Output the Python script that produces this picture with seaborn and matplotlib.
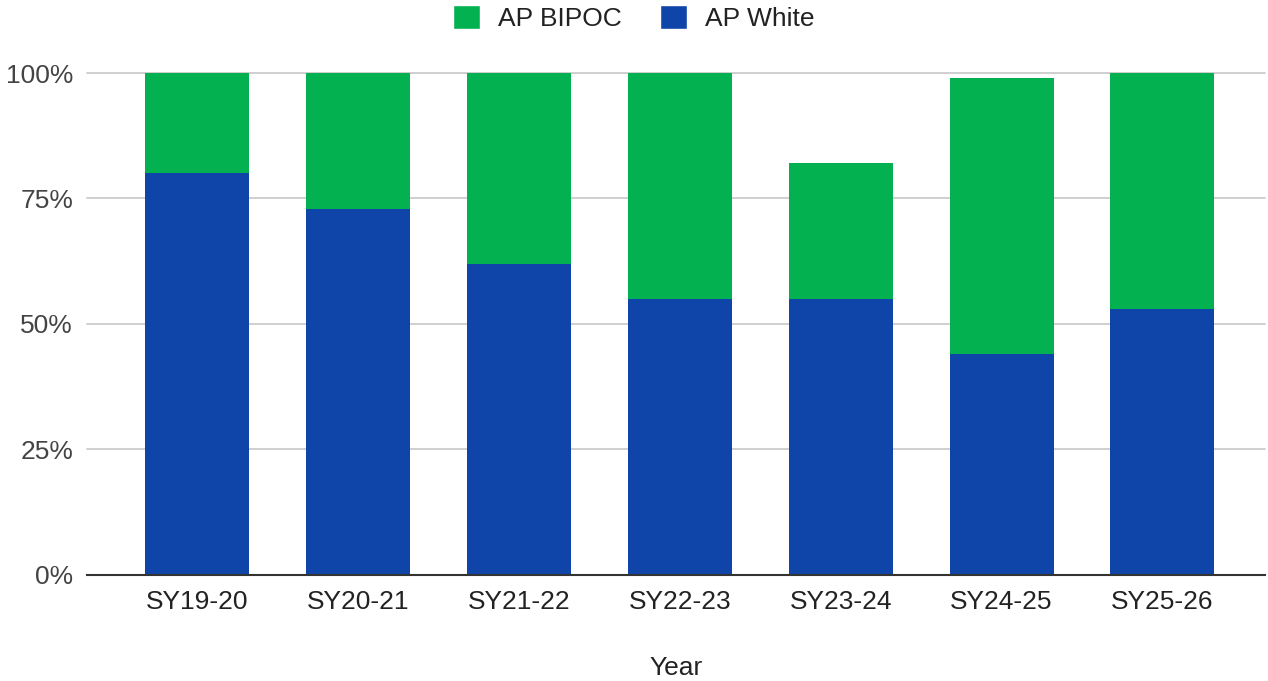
import matplotlib
matplotlib.use("Agg")
import matplotlib.pyplot as plt
from matplotlib.patches import Patch
from matplotlib.ticker import FuncFormatter
import seaborn as sns
import pandas as pd

years = ["SY19-20", "SY20-21", "SY21-22", "SY22-23", "SY23-24", "SY24-25", "SY25-26"]
ap_white = [80, 73, 62, 55, 55, 44, 53]
ap_bipoc = [20, 27, 38, 45, 27, 55, 47]

GREEN = "#03B150"
BLUE = "#0F45A8"
FS = 19

sns.set_theme(style="white")
plt.rcParams["font.family"] = ["Liberation Sans", "DejaVu Sans"]

df = pd.DataFrame({"Year": years, "White": ap_white, "BIPOC": ap_bipoc})
df["Total"] = df["White"] + df["BIPOC"]

fig = plt.figure(figsize=(12.68, 6.81), dpi=100)
ax = fig.add_axes([0.0686, 0.1557, 0.9294, 0.7371])

# stacked bars: full height in green, white share drawn over it in blue
sns.barplot(data=df, x="Year", y="Total", color=GREEN, width=0.646,
            saturation=1, linewidth=0, ax=ax, zorder=2)
sns.barplot(data=df, x="Year", y="White", color=BLUE, width=0.646,
            saturation=1, linewidth=0, ax=ax, zorder=3)

ax.set_ylim(0, 100)
ax.set_xlim(-0.683, 6.64)
ax.set_yticks([0, 25, 50, 75, 100])
ax.yaxis.set_major_formatter(FuncFormatter(lambda v, _: f"{int(v)}%"))
ax.yaxis.grid(True, color="#CCCCCC", linewidth=1.3, zorder=0)
for gl in ax.get_ygridlines():
    gl.set_clip_on(False)
ax.set_axisbelow(True)

for s in ["top", "right", "left"]:
    ax.spines[s].set_visible(False)
ax.spines["bottom"].set_color("#333333")
ax.spines["bottom"].set_linewidth(1.5)
ax.spines["bottom"].set_zorder(4)

ax.tick_params(axis="both", length=0, labelsize=FS, labelcolor="#444444")
ax.tick_params(axis="x", pad=11, labelcolor="#222222")
ax.tick_params(axis="y", pad=10)
ax.set_ylabel("")
ax.set_xlabel("Year", fontsize=FS, color="#222222", labelpad=30)

handles = [Patch(facecolor=GREEN, label="AP BIPOC"),
           Patch(facecolor=BLUE, label="AP White")]
fig.legend(handles=handles, loc="upper center", bbox_to_anchor=(0.5, 1.027),
           ncol=2, frameon=False, fontsize=FS, handlelength=1.02,
           handleheight=1.0, handletextpad=0.68, columnspacing=1.45,
           labelcolor="#222222")

fig.savefig("out.png", dpi=100)
